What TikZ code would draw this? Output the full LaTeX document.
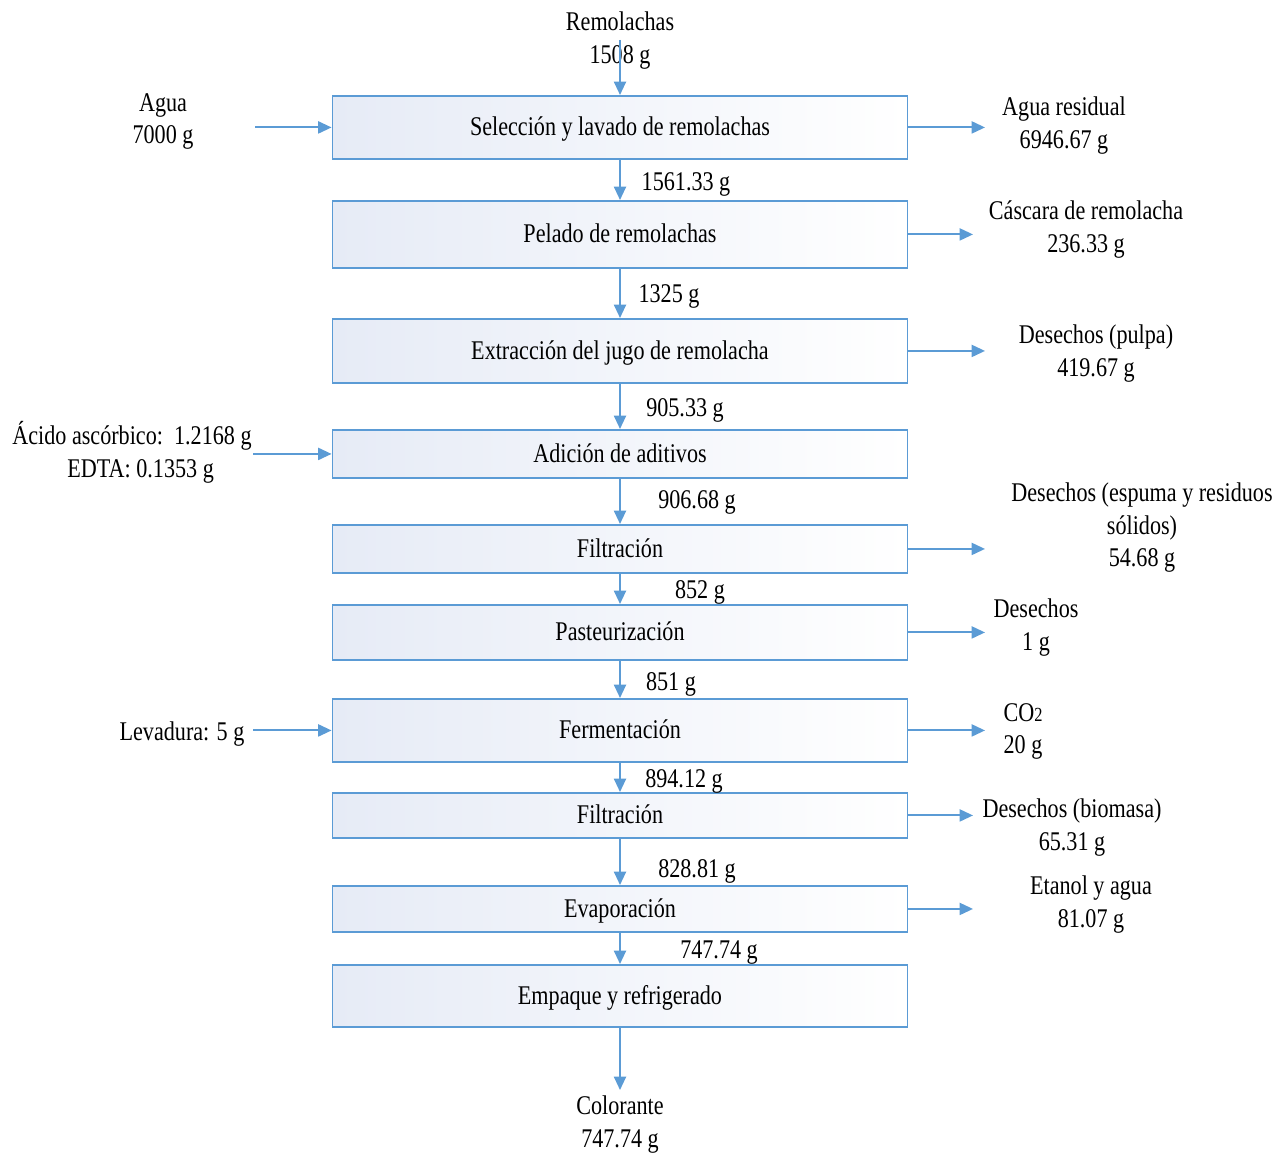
\documentclass[tikz,border=0pt]{standalone}
\usepackage{fontspec}
\setmainfont[FakeStretch=0.82]{Liberation Serif}
\usetikzlibrary{arrows.meta}
\definecolor{flowblue}{RGB}{91,155,213}
\definecolor{boxfill}{RGB}{230,235,246}
\newcommand{\txtsize}{\fontsize{20.25pt}{24.4pt}\selectfont}
\begin{document}
\begin{tikzpicture}[x=0.75pt,y=-0.75pt,
  lbl/.style={font=\txtsize, inner sep=0pt, align=center, yshift=-2pt},
  stage/.style={draw=flowblue, line width=1.4pt, left color=boxfill, right color=white,
    minimum width=431.25pt, inner sep=0pt, font=\txtsize, anchor=north,
    text height=17pt, text depth=4.5pt},
  flow/.style={draw=flowblue, line width=1.5pt, -{Triangle[length=10pt,width=9pt]}}]
\useasboundingbox (0,0) rectangle (1276,1152);

% process stages
\node[stage, minimum height=47.25pt] (b1) at (620,95) {Selección y lavado de remolachas};
\node[stage, minimum height=50.25pt] (b2) at (620,200) {Pelado de remolachas};
\node[stage, minimum height=48pt]    (b3) at (620,318) {Extracción del jugo de remolacha};
\node[stage, minimum height=36pt]    (b4) at (620,429) {Adición de aditivos};
\node[stage, minimum height=36pt]    (b5) at (620,524) {Filtración};
\node[stage, minimum height=41.25pt] (b6) at (620,604) {Pasteurización};
\node[stage, minimum height=47.25pt] (b7) at (620,698) {Fermentación};
\node[stage, minimum height=33.75pt] (b8) at (620,792) {Filtración};
\node[stage, minimum height=34.5pt]  (b9) at (620,885) {Evaporación};
\node[stage, minimum height=46.5pt]  (b10) at (620,964) {Empaque y refrigerado};

% main line
\node[lbl] (raw) at (620,38) {Remolachas\\1508 g};
\coordinate (rawin) at (620,40);
\draw[flow] (rawin) -- (b1.north);
\draw[flow] (b1.south) -- (b2.north);
\draw[flow] (b2.south) -- (b3.north);
\draw[flow] (b3.south) -- (b4.north);
\draw[flow] (b4.south) -- (b5.north);
\draw[flow] (b5.south) -- (b6.north);
\draw[flow] (b6.south) -- (b7.north);
\draw[flow] (b7.south) -- (b8.north);
\draw[flow] (b8.south) -- (b9.north);
\draw[flow] (b9.south) -- (b10.north);
\coordinate (outend) at (620,1090);
\draw[flow] (b10.south) -- (outend);
\node[lbl] (prod) at (620,1122) {Colorante\\747.74 g};

\node[lbl] (m1) at (686,182) {1561.33 g};
\node[lbl] (m2) at (669,294) {1325 g};
\node[lbl] (m3) at (685,408) {905.33 g};
\node[lbl] (m4) at (697,500) {906.68 g};
\node[lbl] (m5) at (700,590) {852 g};
\node[lbl] (m6) at (671,682) {851 g};
\node[lbl] (m7) at (684,779) {894.12 g};
\node[lbl] (m8) at (697,869) {828.81 g};
\node[lbl] (m9) at (719,950) {747.74 g};

% inputs
\node[lbl] (agua) at (163,119) {Agua\\7000 g};
\coordinate (aguain) at (255,0);
\draw[flow] (aguain |- b1.west) -- (b1.west);
\node[lbl] (adit) at (132,449.5) {Ácido ascórbico:\ \ 1.2168 g\\\hspace*{13pt}EDTA: 0.1353 g};
\coordinate (aditin) at (253,0);
\draw[flow] (aditin |- b4.west) -- (b4.west);
\node[lbl] (lev) at (182,731) {Levadura: 5 g};
\coordinate (levin) at (253,0);
\draw[flow] (levin |- b7.west) -- (b7.west);

% outputs
\coordinate (o1) at (985,0);
\draw[flow] (b1.east) -- (b1.east -| o1);
\node[lbl] (w1) at (1064,123) {Agua residual\\6946.67 g};
\coordinate (o2) at (973,0);
\draw[flow] (b2.east) -- (b2.east -| o2);
\node[lbl] (w2) at (1086,227) {Cáscara de remolacha\\236.33 g};
\coordinate (o3) at (985,0);
\draw[flow] (b3.east) -- (b3.east -| o3);
\node[lbl] (w3) at (1096,351) {Desechos (pulpa)\\419.67 g};
\coordinate (o5) at (985,0);
\draw[flow] (b5.east) -- (b5.east -| o5);
\node[lbl] (w5) at (1142,525) {Desechos (espuma y residuos\\sólidos)\\54.68 g};
\coordinate (o6) at (985,0);
\draw[flow] (b6.east) -- (b6.east -| o6);
\node[lbl] (w6) at (1036,625) {Desechos\\1 g};
\coordinate (o7) at (985,0);
\draw[flow] (b7.east) -- (b7.east -| o7);
\node[lbl] (w7) at (1023,729) {CO{\fontsize{15pt}{15pt}\selectfont 2}\\20 g};
\coordinate (o8) at (973,0);
\draw[flow] (b8.east) -- (b8.east -| o8);
\node[lbl] (w8) at (1072,825) {Desechos (biomasa)\\65.31 g};
\coordinate (o9) at (973,0);
\draw[flow] (b9.east) -- (b9.east -| o9);
\node[lbl] (w9) at (1091,902) {Etanol y agua\\81.07 g};
\end{tikzpicture}
\end{document}
